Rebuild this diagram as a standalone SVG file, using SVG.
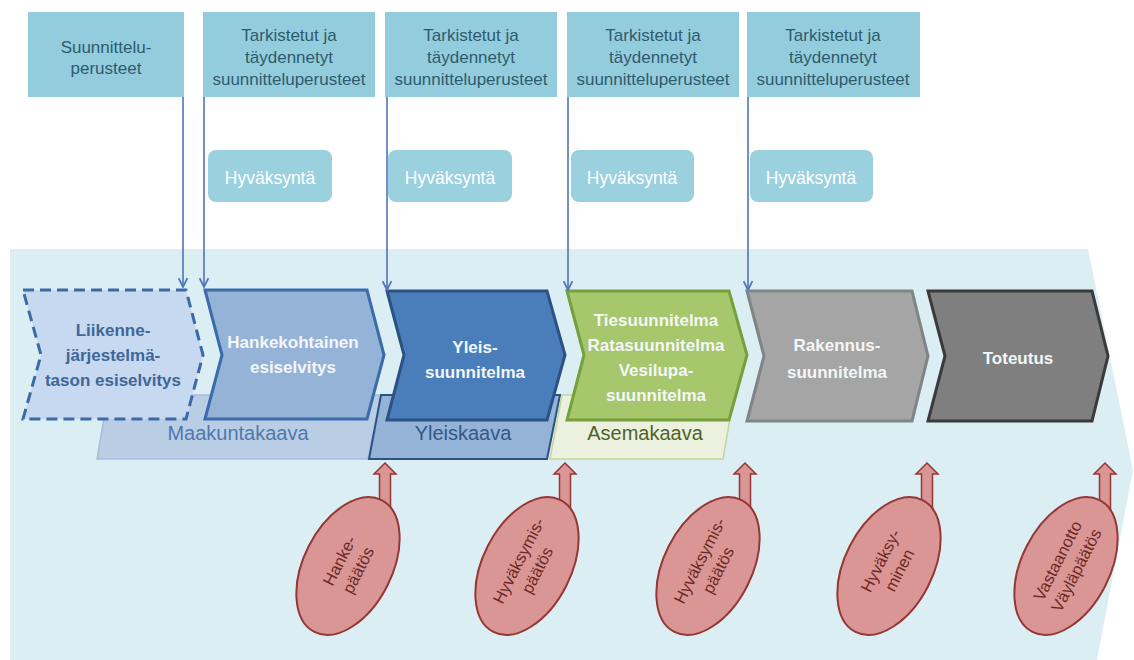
<svg xmlns="http://www.w3.org/2000/svg" width="1134" height="660" viewBox="0 0 1134 660">
  <defs>
    <marker id="open-arrow" viewBox="0 0 10 10" refX="9" refY="5" markerWidth="11" markerHeight="11" markerUnits="userSpaceOnUse" orient="auto">
      <path d="M1,1 L9,5 L1,9" fill="none" stroke="#4F74B8" stroke-width="1.6"/>
    </marker>
    <style>
      .box { fill: #93CDDD; }
      .boxtxt { font-family: "Liberation Sans", Arial, sans-serif; font-size: 17px; fill: #2F5B6E; text-anchor: middle; }
      .appr { fill: #9BD0DF; }
      .apprtxt { font-family: "Liberation Sans", Arial, sans-serif; font-size: 17.5px; fill: #FFFFFF; text-anchor: middle; }
      .chev { stroke-width: 3; stroke-linejoin: miter; }
      .ctxt { font-family: "Liberation Sans", Arial, sans-serif; font-size: 17px; font-weight: bold; text-anchor: middle; fill: #F4F6F8; }
      .ctxt-dark { fill: #3F6797; }
      .ktxt { font-family: "Liberation Sans", Arial, sans-serif; font-size: 20px; text-anchor: middle; }
      .conn { stroke: #4F74B8; stroke-width: 1.6; fill: none; }
      .uparrow { fill: #D99694; stroke: #953735; stroke-width: 1.5; }
      .oval { fill: #D99694; stroke: #953735; stroke-width: 2; }
      .otxt { font-family: "Liberation Sans", Arial, sans-serif; font-size: 16.5px; fill: #6B2826; text-anchor: middle; }
    </style>
  </defs>

  <rect width="1134" height="660" fill="#FFFFFF"/>

  <!-- background band -->
  <path d="M10,249 L1088,249 L1133,470 L1097,660 L10,660 Z" fill="#DBEEF4"/>

  <!-- planning-level bars -->
  <g id="maakuntakaava">
    <path d="M108,395 L381,395 L368,459 L97,459 Z" fill="#B9CDE5" stroke="#A7BEDB" stroke-width="1.5"/>
    <text class="ktxt" x="238" y="440" fill="#5078AC">Maakuntakaava</text>
  </g>
  <g id="yleiskaava">
    <path d="M381,395 L560,395 L547,459 L369,459 Z" fill="#95B3D7" stroke="#2C5283" stroke-width="2"/>
    <text class="ktxt" x="463" y="440" fill="#34588A">Yleiskaava</text>
  </g>
  <g id="asemakaava">
    <path d="M562,395 L734,395 L723,459 L550,459 Z" fill="#EBF1DE" stroke="#C3D69B" stroke-width="1.5"/>
    <text class="ktxt" x="645" y="440" fill="#4F6228">Asemakaava</text>
  </g>

  <!-- process chevrons -->
  <g id="liikennejarjestelma">
    <path class="chev" d="M23,290 L186,290 L203,355 L186,419 L23,419 L41,355 Z" fill="#C6D9F1" stroke="#3B6AA6" stroke-dasharray="11,6"/>
    <text class="ctxt ctxt-dark" x="113" y="336">Liikenne-</text>
    <text class="ctxt ctxt-dark" x="113" y="361">järjestelmä-</text>
    <text class="ctxt ctxt-dark" x="113" y="386">tason esiselvitys</text>
  </g>
  <g id="hankekohtainen">
    <path class="chev" d="M205,290 L367,290 L384,355 L367,419 L205,419 L222,355 Z" fill="#95B3D7" stroke="#3A6BAA"/>
    <text class="ctxt" x="293" y="348">Hankekohtainen</text>
    <text class="ctxt" x="293" y="373">esiselvitys</text>
  </g>
  <g id="yleissuunnitelma">
    <path class="chev" d="M387,291 L547,291 L565,355 L547,420 L387,420 L404,355 Z" fill="#4A7EBB" stroke="#2C5283"/>
    <text class="ctxt" x="475" y="353">Yleis-</text>
    <text class="ctxt" x="475" y="378">suunnitelma</text>
  </g>
  <g id="tiesuunnitelma">
    <path class="chev" d="M567,291 L729,291 L747,355 L729,420 L567,420 L584,355 Z" fill="#A6C76C" stroke="#76A03B"/>
    <text class="ctxt" x="656" y="326">Tiesuunnitelma</text>
    <text class="ctxt" x="656" y="351">Ratasuunnitelma</text>
    <text class="ctxt" x="656" y="376">Vesilupa-</text>
    <text class="ctxt" x="656" y="401">suunnitelma</text>
  </g>
  <g id="rakennussuunnitelma">
    <path class="chev" d="M747,291 L912,291 L928,356 L912,421 L747,421 L764,356 Z" fill="#A5A5A5" stroke="#7F8486"/>
    <text class="ctxt" x="837" y="351">Rakennus-</text>
    <text class="ctxt" x="837" y="378">suunnitelma</text>
  </g>
  <g id="toteutus">
    <path class="chev" d="M928,291 L1092,291 L1108,356 L1092,421 L928,421 L945,356 Z" fill="#7F7F7F" stroke="#3A3A3A"/>
    <text class="ctxt" x="1018" y="364">Toteutus</text>
  </g>

  <!-- input boxes -->
  <g id="perusteet-1">
    <rect class="box" x="28" y="12" width="156" height="85"/>
    <text class="boxtxt" x="106" y="53">Suunnittelu-</text>
    <text class="boxtxt" x="106" y="74">perusteet</text>
  </g>
  <g id="perusteet-2">
    <rect class="box" x="203" y="12" width="172" height="85"/>
    <text class="boxtxt" x="289" y="41">Tarkistetut ja</text>
    <text class="boxtxt" x="289" y="63">täydennetyt</text>
    <text class="boxtxt" x="289" y="85">suunnitteluperusteet</text>
  </g>
  <g id="perusteet-3">
    <rect class="box" x="385" y="12" width="172" height="85"/>
    <text class="boxtxt" x="471" y="41">Tarkistetut ja</text>
    <text class="boxtxt" x="471" y="63">täydennetyt</text>
    <text class="boxtxt" x="471" y="85">suunnitteluperusteet</text>
  </g>
  <g id="perusteet-4">
    <rect class="box" x="567" y="12" width="172" height="85"/>
    <text class="boxtxt" x="653" y="41">Tarkistetut ja</text>
    <text class="boxtxt" x="653" y="63">täydennetyt</text>
    <text class="boxtxt" x="653" y="85">suunnitteluperusteet</text>
  </g>
  <g id="perusteet-5">
    <rect class="box" x="747" y="12" width="173" height="85"/>
    <text class="boxtxt" x="833" y="41">Tarkistetut ja</text>
    <text class="boxtxt" x="833" y="63">täydennetyt</text>
    <text class="boxtxt" x="833" y="85">suunnitteluperusteet</text>
  </g>

  <!-- approval boxes -->
  <g id="hyvaksynta-1">
    <rect class="appr" x="208" y="150" width="124" height="52" rx="8"/>
    <text class="apprtxt" x="270" y="184">Hyväksyntä</text>
  </g>
  <g id="hyvaksynta-2">
    <rect class="appr" x="388" y="150" width="124" height="52" rx="8"/>
    <text class="apprtxt" x="450" y="184">Hyväksyntä</text>
  </g>
  <g id="hyvaksynta-3">
    <rect class="appr" x="571" y="150" width="123" height="52" rx="8"/>
    <text class="apprtxt" x="632" y="184">Hyväksyntä</text>
  </g>
  <g id="hyvaksynta-4">
    <rect class="appr" x="750" y="150" width="123" height="52" rx="8"/>
    <text class="apprtxt" x="811" y="184">Hyväksyntä</text>
  </g>

  <!-- connectors from input boxes to phases -->
  <g id="connectors">
    <line class="conn" x1="183" y1="97" x2="183" y2="287" marker-end="url(#open-arrow)"/>
    <line class="conn" x1="204" y1="97" x2="204" y2="287" marker-end="url(#open-arrow)"/>
    <line class="conn" x1="387" y1="97" x2="387" y2="290" marker-end="url(#open-arrow)"/>
    <line class="conn" x1="568" y1="97" x2="568" y2="290" marker-end="url(#open-arrow)"/>
    <line class="conn" x1="748" y1="97" x2="748" y2="290" marker-end="url(#open-arrow)"/>
  </g>

  <!-- decisions -->
  <g id="hankepaatos">
    <path class="uparrow" d="M385,463 L396,474 L390.5,474 L390.5,515 L379.5,515 L379.5,474 L374,474 Z"/>
    <g transform="translate(348,566) rotate(27)"><ellipse class="oval" cx="0" cy="0" rx="44" ry="74"/></g>
    <g transform="translate(350,566) rotate(-63)">
      <text class="otxt" x="0" y="-6">Hanke-</text>
      <text class="otxt" x="0" y="15">päätös</text>
    </g>
  </g>
  <g id="hyvaksymispaatos-1">
    <path class="uparrow" d="M565,463 L576,474 L570.5,474 L570.5,515 L559.5,515 L559.5,474 L554,474 Z"/>
    <g transform="translate(527,566) rotate(27)"><ellipse class="oval" cx="0" cy="0" rx="44" ry="74"/></g>
    <g transform="translate(529,566) rotate(-63)">
      <text class="otxt" x="0" y="-6">Hyväksymis-</text>
      <text class="otxt" x="0" y="15">päätös</text>
    </g>
  </g>
  <g id="hyvaksymispaatos-2">
    <path class="uparrow" d="M745,463 L756,474 L750.5,474 L750.5,515 L739.5,515 L739.5,474 L734,474 Z"/>
    <g transform="translate(708,566) rotate(27)"><ellipse class="oval" cx="0" cy="0" rx="44" ry="74"/></g>
    <g transform="translate(710,566) rotate(-63)">
      <text class="otxt" x="0" y="-6">Hyväksymis-</text>
      <text class="otxt" x="0" y="15">päätös</text>
    </g>
  </g>
  <g id="hyvaksyminen">
    <path class="uparrow" d="M927,463 L938,474 L932.5,474 L932.5,515 L921.5,515 L921.5,474 L916,474 Z"/>
    <g transform="translate(889,566) rotate(27)"><ellipse class="oval" cx="0" cy="0" rx="44" ry="74"/></g>
    <g transform="translate(891,566) rotate(-63)">
      <text class="otxt" x="0" y="-6">Hyväksy-</text>
      <text class="otxt" x="0" y="15">minen</text>
    </g>
  </g>
  <g id="vastaanotto">
    <path class="uparrow" d="M1105,463 L1116,474 L1110.5,474 L1110.5,515 L1099.5,515 L1099.5,474 L1094,474 Z"/>
    <g transform="translate(1066,566) rotate(27)"><ellipse class="oval" cx="0" cy="0" rx="44" ry="74"/></g>
    <g transform="translate(1068,566) rotate(-63)">
      <text class="otxt" x="0" y="-6">Vastaanotto</text>
      <text class="otxt" x="0" y="15">Väyläpäätös</text>
    </g>
  </g>
</svg>
